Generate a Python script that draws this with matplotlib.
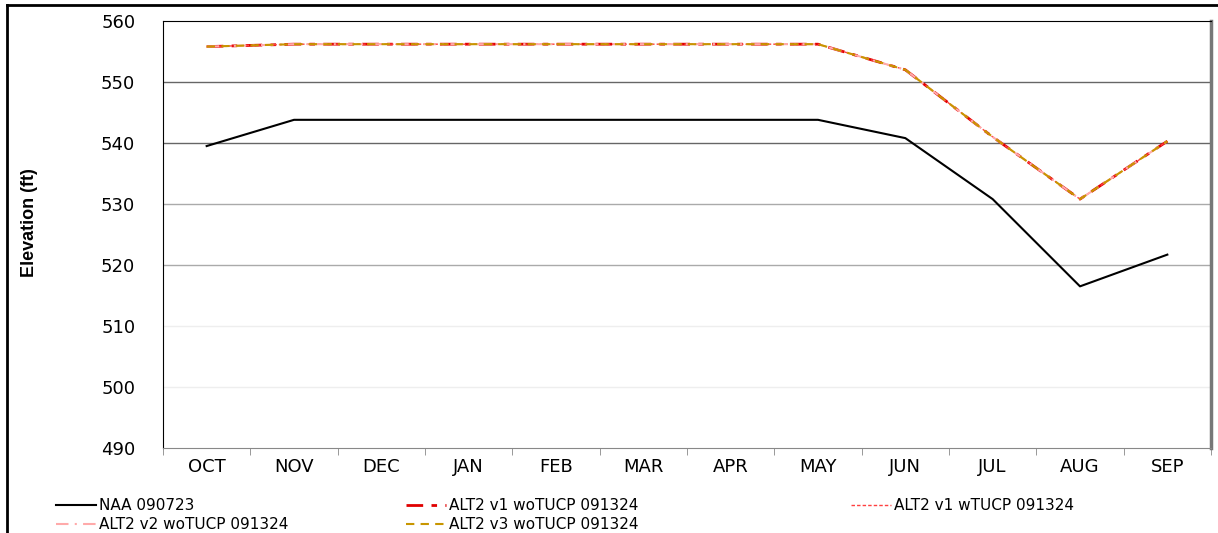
import matplotlib
matplotlib.use("Agg")
import matplotlib.pyplot as plt
from matplotlib.lines import Line2D

plt.rcParams['font.family'] = ['DejaVu Sans']

# data
months = ['OCT', 'NOV', 'DEC', 'JAN', 'FEB', 'MAR', 'APR', 'MAY', 'JUN', 'JUL', 'AUG', 'SEP']
naa_090723 = [539.5, 543.8, 543.8, 543.8, 543.8, 543.8, 543.8, 543.8, 540.8, 530.8, 516.5, 521.7]
alt2_v1_wo = [555.8, 556.2, 556.2, 556.2, 556.2, 556.2, 556.2, 556.2, 552.0, 541.0, 530.8, 540.3]
alt2_v1_w = [555.8, 556.2, 556.2, 556.2, 556.2, 556.2, 556.2, 556.2, 552.0, 541.0, 530.8, 540.3]
alt2_v2_wo = [555.8, 556.2, 556.2, 556.2, 556.2, 556.2, 556.2, 556.2, 552.0, 541.0, 530.8, 540.3]
alt2_v3_wo = [555.8, 556.2, 556.2, 556.2, 556.2, 556.2, 556.2, 556.2, 552.0, 541.0, 530.8, 540.3]
yticks = [490, 500, 510, 520, 530, 540, 550, 560]

fig = plt.figure(figsize=(12.18, 5.33), dpi=100)
ax = fig.add_axes([163/1218, 1-448/533, (1211-163)/1218, (448-21)/533])

x = range(len(months))
l_naa, = ax.plot(x, naa_090723, color='black', lw=1.5, label='NAA 090723', zorder=3)
l_v1wo, = ax.plot(x, alt2_v1_wo, color='#E00000', lw=2.0, dashes=(6, 3, 2, 3), label='ALT2 v1 woTUCP 091324', zorder=3)
l_v1w, = ax.plot(x, alt2_v1_w, color='#FF4040', lw=1.0, dashes=(2.5, 1.5), label='ALT2 v1 wTUCP 091324', zorder=4)
l_v2wo, = ax.plot(x, alt2_v2_wo, color='#FFAAAA', lw=1.5, dashes=(6, 3, 1, 3), label='ALT2 v2 woTUCP 091324', zorder=4)
l_v3wo, = ax.plot(x, alt2_v3_wo, color='#C89600', lw=1.5, dashes=(4, 3), label='ALT2 v3 woTUCP 091324', zorder=5)

ax.set_xlim(-0.5, len(months) - 0.5)
ax.set_ylim(490, 560)
ax.set_xticks(list(x))
ax.set_xticklabels(months, fontsize=13)
ax.set_xticks([i - 0.5 for i in range(len(months) + 1)], minor=True)
ax.tick_params(axis='x', which='major', length=0, pad=7)
ax.tick_params(axis='x', which='minor', length=5, color='#888888')
ax.set_yticks(yticks)
ax.set_yticklabels([str(v) for v in yticks], fontsize=13)
ax.tick_params(axis='y', length=0, pad=20)

# horizontal gridlines, lighter toward the bottom like the original
grid_cols = {500: '#eeeeee', 510: '#eeeeee', 520: '#aaaaaa', 530: '#aaaaaa', 540: '#666666', 550: '#666666'}
for v, c in grid_cols.items():
    ax.axhline(v, color=c, lw=1.0, zorder=1)

ax.spines['top'].set_color('black')
ax.spines['left'].set_color('black')
ax.spines['right'].set_color('#777777')
ax.spines['right'].set_linewidth(2.5)
ax.spines['bottom'].set_color('#888888')

fig.text(30/1218, 1-223/533, 'Elevation (ft)', rotation=90, ha='center', va='center',
         fontsize=13, fontweight='bold', family=['Liberation Sans', 'DejaVu Sans'])

# legend in three columns, placed like the original
cols = [([l_naa, l_v2wo], 50), ([l_v1wo, l_v3wo], 400), ([l_v1w], 845)]
for hs, xpix in cols:
    lg = fig.legend(hs, [h.get_label() for h in hs], loc='upper left',
                    bbox_to_anchor=(xpix/1218, 1-492/533), frameon=False, fontsize=11,
                    handlelength=2.6, handletextpad=0.2, labelspacing=0.25, borderaxespad=0)

# outer border of the figure (left and top edges)
fig.add_artist(Line2D([7/1218, 7/1218], [0, 1-5/533], transform=fig.transFigure, color='black', lw=2))
fig.add_artist(Line2D([7/1218, 1], [1-5/533, 1-5/533], transform=fig.transFigure, color='black', lw=2))

fig.savefig('out.png', dpi=100)
